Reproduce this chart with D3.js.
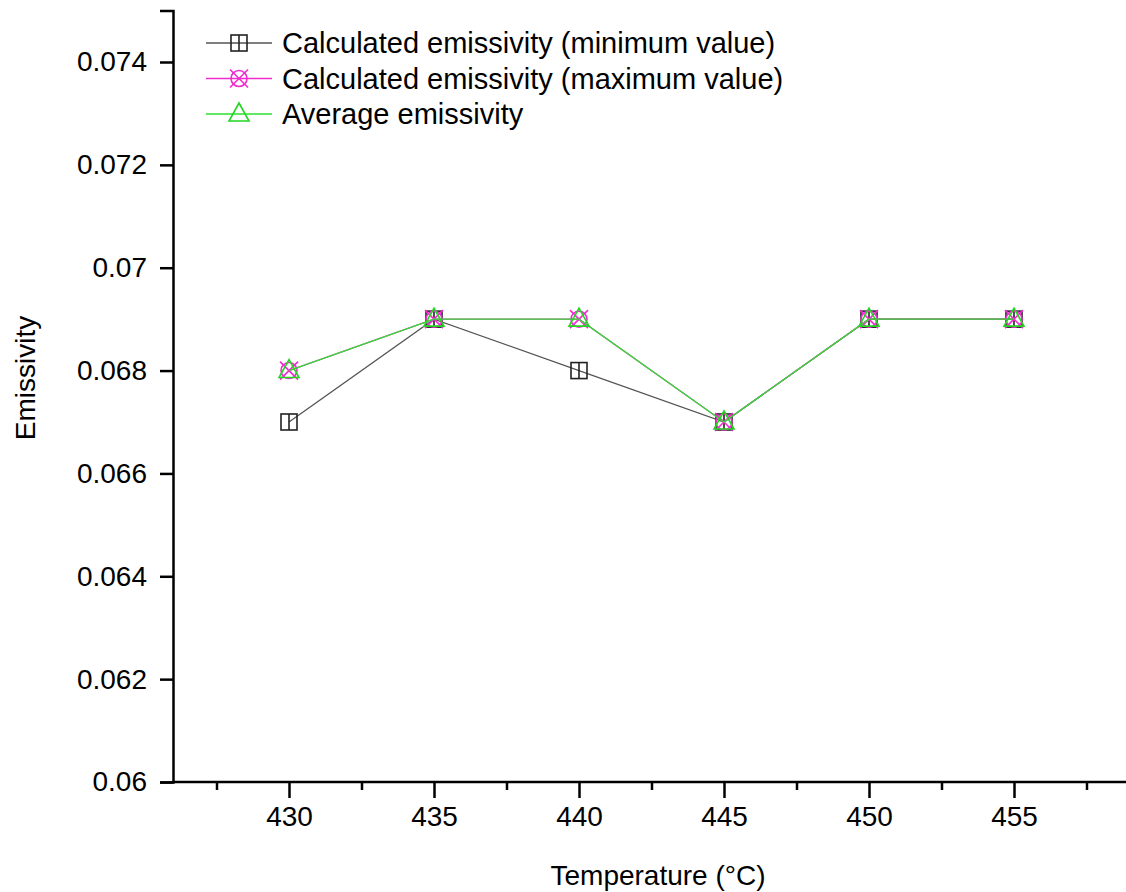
<!DOCTYPE html>
<html>
<head>
<meta charset="utf-8">
<script src="https://cdn.jsdelivr.net/npm/d3@7"></script>
<style>
  body { margin: 0; background: #fff; }
  text { font-family: "Liberation Sans", Arial, sans-serif; }
</style>
</head>
<body>
<div id="chart-area"></div>
<script>
// temperatures (°C)
const temps = [430, 435, 440, 445, 450, 455];
const minValues = [0.067, 0.069, 0.068, 0.067, 0.069, 0.069];
const maxValues = [0.068, 0.069, 0.069, 0.067, 0.069, 0.069];
const avgValues = [0.068, 0.069, 0.069, 0.067, 0.069, 0.069];
const seriesNames = [
  "Calculated emissivity (minimum value)",
  "Calculated emissivity (maximum value)",
  "Average emissivity"
];
const yTicks = [0.06, 0.062, 0.064, 0.066, 0.068, 0.07, 0.072, 0.074];
const xTicks = [430, 435, 440, 445, 450, 455];
const xMinorTicks = [427.5, 432.5, 437.5, 442.5, 447.5, 452.5, 457.5];

const W = 1126, H = 892;
const left = 173, bottom = 782;

const svg = d3.select('#chart-area').append('svg')
  .attr('width', W)
  .attr('height', H);

const x = d3.scaleLinear().domain([426, 459]).range([left, left + 33 * 29]);
const y = d3.scaleLinear().domain([0.06, 0.075]).range([bottom, bottom - 0.015 / 0.014 * 720]);

// axes
const xAxis = svg.append('g')
  .attr('transform', `translate(0,${bottom})`)
  .call(d3.axisBottom(x).tickValues(xTicks).tickSize(16).tickPadding(8).tickFormat(d3.format('d')));
svg.append('g')
  .attr('transform', `translate(0,${bottom})`)
  .call(d3.axisBottom(x).tickValues(xMinorTicks).tickSize(8).tickFormat(''))
  .select('.domain').remove();

svg.append('g')
  .attr('transform', `translate(${left},0)`)
  .call(d3.axisLeft(y).tickValues(yTicks).tickSize(13).tickPadding(13)
    .tickFormat(d => d === 0.06 ? '0.06' : d === 0.07 ? '0.07' : d3.format('.3f')(d)));

svg.selectAll('.domain').attr('stroke', '#000').attr('stroke-width', 2.5);
svg.selectAll('.tick line').attr('stroke', '#000').attr('stroke-width', 2.5);
svg.selectAll('.tick text').attr('fill', '#000').style('font-size', '28px')
  .style('font-family', '"Liberation Sans", Arial, sans-serif');
xAxis.selectAll('.domain').attr('d', `M${left},0H${W + 10}`);

// axis titles
svg.append('text')
  .attr('x', 658).attr('y', 885)
  .attr('text-anchor', 'middle')
  .style('font-size', '28px')
  .text('Temperature (°C)');
svg.append('text')
  .attr('transform', 'translate(35,378) rotate(-90)')
  .attr('text-anchor', 'middle')
  .style('font-size', '28px')
  .text('Emissivity');

// markers
function squareMarker(g, cx, cy) {
  g.append('rect').attr('x', cx - 8).attr('y', cy - 8).attr('width', 16).attr('height', 16)
    .attr('fill', 'none').attr('stroke', '#222').attr('stroke-width', 1.6);
  g.append('line').attr('x1', cx).attr('x2', cx).attr('y1', cy - 8).attr('y2', cy + 8)
    .attr('stroke', '#222').attr('stroke-width', 1.6);
}
function circleXMarker(g, cx, cy) {
  g.append('circle').attr('cx', cx).attr('cy', cy).attr('r', 8)
    .attr('fill', 'none').attr('stroke', '#f02cd0').attr('stroke-width', 1.6);
  g.append('path').attr('d', `M${cx - 9},${cy - 9}L${cx + 9},${cy + 9}M${cx + 9},${cy - 9}L${cx - 9},${cy + 9}`)
    .attr('stroke', '#f02cd0').attr('stroke-width', 1.6);
}
function triangleMarker(g, cx, cy) {
  g.append('path').attr('d', `M${cx},${cy - 11}L${cx + 10},${cy + 7}L${cx - 10},${cy + 7}Z`)
    .attr('fill', 'none').attr('stroke', '#22d622').attr('stroke-width', 1.6);
}

const series = [
  { values: minValues, color: '#555', marker: squareMarker },
  { values: maxValues, color: '#f02cd0', marker: circleXMarker },
  { values: avgValues, color: '#2ee02e', marker: triangleMarker }
];

const line = d3.line().x((d, i) => x(temps[i])).y(d => y(d));

series.forEach(s => {
  svg.append('path')
    .datum(s.values)
    .attr('d', line)
    .attr('fill', 'none')
    .attr('stroke', s.color)
    .attr('stroke-width', 1.3);
  const g = svg.append('g');
  s.values.forEach((v, i) => s.marker(g, x(temps[i]), y(v)));
});

// legend
const legend = svg.append('g');
series.forEach((s, i) => {
  const cy = 43 + i * 35.5;
  legend.append('line')
    .attr('x1', 206).attr('x2', 272).attr('y1', cy).attr('y2', cy)
    .attr('stroke', s.color).attr('stroke-width', 1.3);
  s.marker(legend, 239, cy);
  legend.append('text')
    .attr('x', 282).attr('y', cy + 10)
    .style('font-size', '29px')
    .text(seriesNames[i]);
});
</script>
</body>
</html>
